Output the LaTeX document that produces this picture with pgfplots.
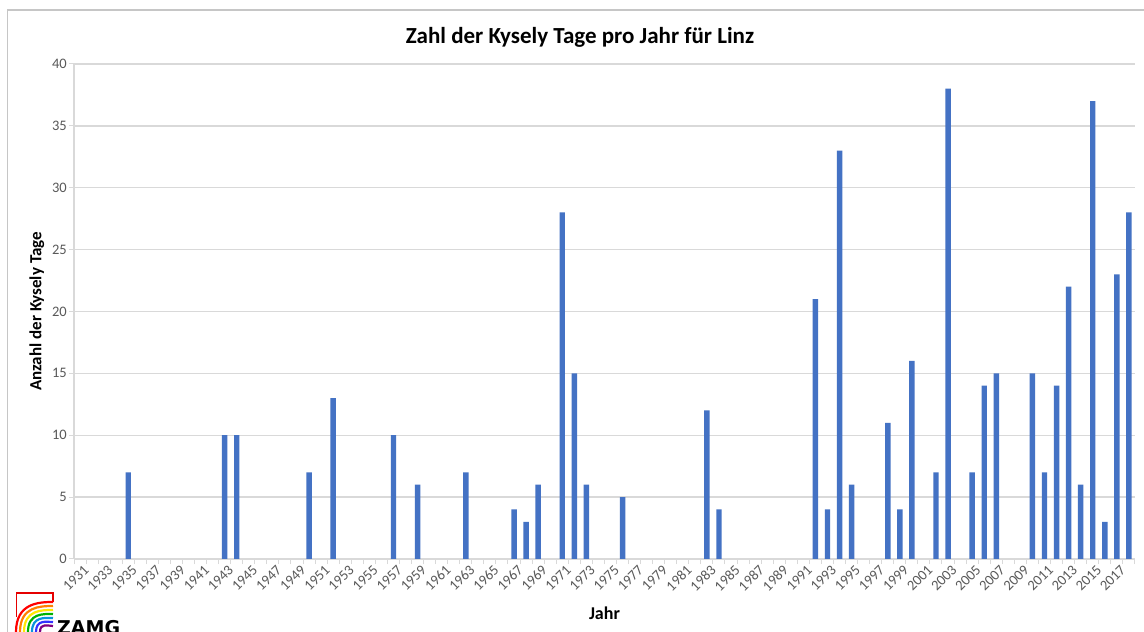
\documentclass[border=0pt]{standalone}
\usepackage{pgfplots}
\pgfplotsset{compat=1.18}
\usepackage{fontspec}
\setmainfont{Carlito}
\newfontfamily\logofont{DejaVu Sans}
\definecolor{barblue}{HTML}{4472C4}
\definecolor{tickgray}{HTML}{595959}
\definecolor{gridgray}{HTML}{D9D9D9}
\begin{document}
\begin{tikzpicture}[x=1pt,y=1pt]
\useasboundingbox (0,0) rectangle (1144,632);
\fill[white] (0,0) rectangle (1144,632);
% chart border
\draw[gray!45, line width=1.2pt] (7.5,-20) -- (7.5,622) -- (1160,622);
\begin{axis}[
  at={(74pt,73pt)}, anchor=south west,
  scale only axis, width=1061pt, height=495pt,
  xmin=1930.5, xmax=2018.5, ymin=0, ymax=40,
  ytick={0,5,...,40},
  xtick={1931,1933,...,2017},
  minor xtick={1930.5,1931.5,...,2018.5},
  major x tick style={draw=none},
  minor tick length=5pt,
  major tick length=5pt,
  tick align=outside,
  tick style={gridgray, line width=1pt},
  axis x line*=bottom, axis y line*=left,
  axis line style={gridgray, line width=1.2pt, -},
  ymajorgrids, grid style={gridgray, line width=1.3pt},
  xticklabel style={rotate=45, anchor=north east, font=\fontsize{14.5}{16}\selectfont, text=tickgray, inner sep=1pt, xshift=3pt, yshift=-1pt},
  yticklabel style={font=\fontsize{14.5}{16}\selectfont, text=tickgray, inner sep=2pt},
  x tick label style={/pgf/number format/1000 sep=},
  /pgf/number format/assume math mode=true,
  ybar, bar width=0.45,
  xlabel={\bfseries Jahr}, xlabel style={font=\fontsize{18}{20}\selectfont, at={(axis description cs:0.5,-0.109)}, anchor=center},
  ylabel={\bfseries Anzahl der Kysely Tage}, ylabel style={font=\fontsize{17}{19}\selectfont, at={(axis description cs:-0.035,0.5)}, anchor=center},
  clip=false,
]
\addplot[fill=barblue, draw=none] coordinates {
(1935,7) (1943,10) (1944,10) (1950,7) (1952,13) (1957,10) (1959,6)
(1963,7) (1967,4) (1968,3) (1969,6) (1971,28) (1972,15) (1973,6)
(1976,5) (1983,12) (1984,4) (1992,21) (1993,4) (1994,33) (1995,6)
(1998,11) (1999,4) (2000,16) (2002,7) (2003,38) (2005,7) (2006,14)
(2007,15) (2010,15) (2011,7) (2012,14) (2013,22) (2014,6) (2015,37)
(2016,3) (2017,23) (2018,28)
};
\end{axis}
% title
\node[font=\fontsize{23}{26}\selectfont\bfseries] at (580,595) {Zahl der Kysely Tage pro Jahr für Linz};
% ZAMG logo
\draw[red!90!black, line width=1.3pt] (16.5,15) -- (16.5,39) -- (53,39) -- (53,30);
\foreach \c/\r in {red/36, orange/32, yellow!90!orange/28, green!70!black/24, cyan!80!blue/20, blue!80/16, violet/12}{
  \draw[\c, line width=2.2pt] (16+36-\r,0) .. controls (16+36-\r,0.8*\r) and (53-0.4*\r,\r-6) .. (53,\r-6);
}
\node[font=\logofont\bfseries\fontsize{19}{20}\selectfont, anchor=west, inner sep=0pt] at (57,4) {ZAMG};
\end{tikzpicture}
\end{document}
